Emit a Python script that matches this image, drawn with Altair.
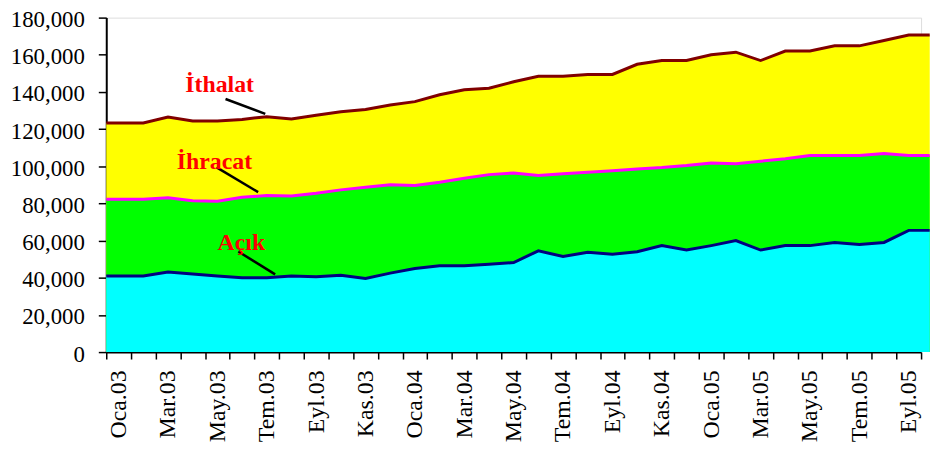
import altair as alt
import pandas as pd

# ---- data ----
months = ["Oca.03", "Şub.03", "Mar.03", "Nis.03", "May.03", "Haz.03", "Tem.03", "Ağu.03",
          "Eyl.03", "Eki.03", "Kas.03", "Ara.03",
          "Oca.04", "Şub.04", "Mar.04", "Nis.04", "May.04", "Haz.04", "Tem.04", "Ağu.04",
          "Eyl.04", "Eki.04", "Kas.04", "Ara.04",
          "Oca.05", "Şub.05", "Mar.05", "Nis.05", "May.05", "Haz.05", "Tem.05", "Ağu.05",
          "Eyl.05"]

ithalat = [123300, 123300, 126500, 124400, 124400, 125200, 126700, 125400, 127500, 129300,
           130600, 133000, 134800, 138500, 141200, 142000, 145500, 148400, 148400, 149400,
           149400, 154900, 156900, 156900, 160000, 161400, 156900, 162000, 162000, 164800,
           164800, 167700, 170600]
ihracat = [82200, 82200, 83000, 81500, 81200, 83300, 84300, 84000, 85500, 87300,
           88700, 90000, 89600, 91400, 93500, 95500, 96400, 95000, 96000, 96800,
           97600, 98500, 99300, 100400, 101800, 101400, 102700, 104000, 105800, 105800,
           105800, 106900, 105800]
acik = [40900, 40900, 43100, 42000, 40900, 40000, 40000, 40900, 40500, 41300,
        39600, 42500, 45000, 46400, 46500, 47300, 48200, 54500, 51400, 53700,
        52700, 54000, 57300, 54900, 57300, 60000, 54900, 57300, 57300, 59000,
        57900, 59000, 65500]

# annotation labels and their pointer lines (in data units)
ann_text = ["İthalat", "İhracat", "Açık"]
ann_x = [4.59, 4.38, 5.47]
ann_y = [140000, 98300, 55100]
ptr_x1 = [4.83, 4.47, 5.35]
ptr_x2 = [6.44, 6.15, 6.84]
ptr_y1 = [136200, 99400, 54100]
ptr_y2 = [128200, 86100, 41800]

# ---- build tables ----
n = len(months)
# Excel-like area: points at category centres, area carried to the plot edges
xs = [0.0] + [k + 0.5 for k in range(n)] + [33.35]
def ext(a):
    return [a[0]] + list(a) + [a[-1]]

df = pd.DataFrame({"x": xs, "ithalat": ext(ithalat), "ihracat": ext(ihracat), "acik": ext(acik)})
ann = pd.DataFrame({"t": ann_text, "x": ann_x, "y": ann_y})
ptr = pd.DataFrame({"x1": ptr_x1, "x2": ptr_x2, "y1": ptr_y1, "y2": ptr_y2})

FONT = "Liberation Serif"
label_arr = "[" + ",".join("'" + m + "'" for m in months) + "]"

tick_vals = list(range(n + 1)) + [k + 0.5 for k in range(0, n, 2)]

x_scale = alt.Scale(domain=[0, 33], nice=False, zero=False)
y_scale = alt.Scale(domain=[0, 180000], nice=False)

x_axis = alt.Axis(
    values=tick_vals,
    labelExpr="datum.value % 1 == 0.5 ? " + label_arr + "[floor(datum.value)] : ''",
    labelAngle=270,
    labelAlign="right",
    labelBaseline="middle",
    labelFont=FONT,
    labelFontSize=24,
    labelColor="#000000",
    labelPadding=11,
    labelOverlap=False,
    labelFlush=False,
    labelBound=False,
    tickSize=7,
    tickWidth=1.5,
    tickColor="#000000",
    tickOpacity={"condition": {"test": "datum.value % 1 == 0", "value": 1}, "value": 0},
    domainColor="#000000",
    domainWidth=2,
    grid=False,
    title=None,
)
y_axis = alt.Axis(
    values=list(range(0, 180001, 20000)),
    format=",.0f",
    labelFont=FONT,
    labelFontSize=23,
    labelColor="#000000",
    labelPadding=14,
    labelOffset=2,
    labelFlush=False,
    labelBound=False,
    tickSize=8,
    tickWidth=1.5,
    tickColor="#000000",
    domainColor="#000000",
    domainWidth=2,
    grid=False,
    title=None,
)

base = alt.Chart(df)
X = alt.X("x:Q", scale=x_scale, axis=x_axis)

def area(col, color):
    return base.mark_area(color=color, opacity=1, clip=False).encode(
        x=X, y=alt.Y(col + ":Q", scale=y_scale, axis=y_axis))

def line(col, color):
    return base.mark_line(color=color, strokeWidth=3, clip=False).encode(
        x=X, y=alt.Y(col + ":Q", scale=y_scale, axis=y_axis))

texts = alt.Chart(ann).mark_text(
    font=FONT, fontSize=24, fontWeight="bold", color="#FF0000",
    align="center", baseline="alphabetic").encode(
    x=alt.X("x:Q", scale=x_scale, axis=x_axis),
    y=alt.Y("y:Q", scale=y_scale, axis=y_axis),
    text="t:N")

pointers = alt.Chart(ptr).mark_rule(color="#000000", strokeWidth=2.5).encode(
    x=alt.X("x1:Q", scale=x_scale, axis=x_axis), x2="x2:Q",
    y=alt.Y("y1:Q", scale=y_scale, axis=y_axis), y2="y2:Q")

chart = alt.layer(
    area("ithalat", "#FFFF00"),
    area("ihracat", "#00FF00"),
    area("acik", "#00FFFF"),
    line("ithalat", "#800000"),
    line("ihracat", "#FF00FF"),
    line("acik", "#000080"),
    pointers,
    texts,
).properties(
    width=821, height=337,
    autosize=alt.AutoSizeParams(type="none"),
    padding={"left": 99, "top": 8, "right": 10, "bottom": 100},
).configure_view(strokeWidth=0).configure(background="#FFFFFF")

chart.save("out.html", embed_options={"renderer": "svg", "actions": False})
